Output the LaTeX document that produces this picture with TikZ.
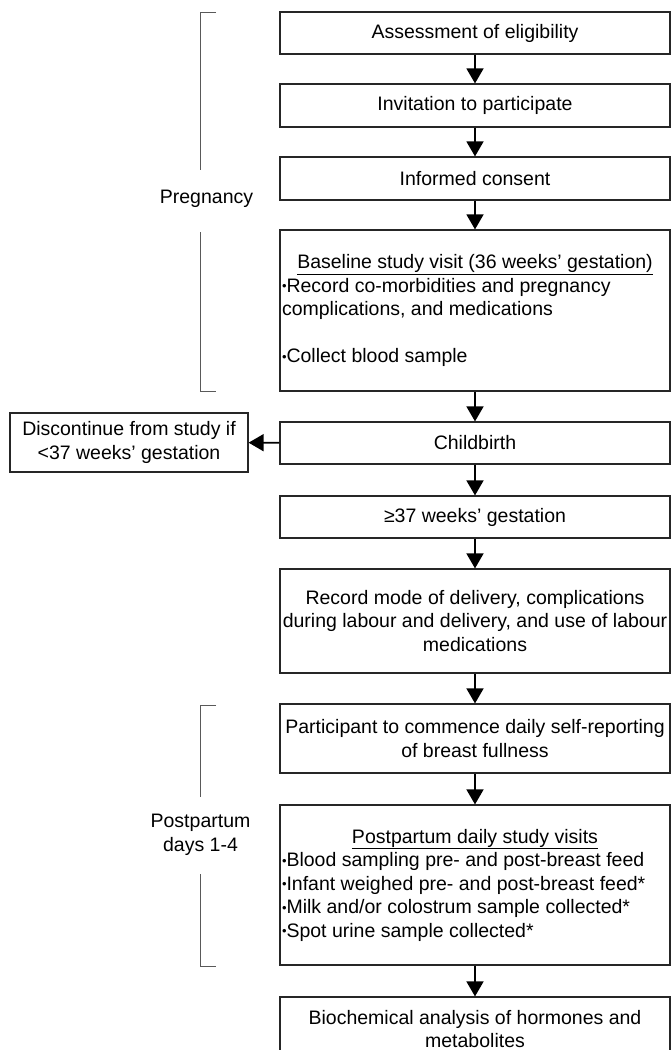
\documentclass[tikz,border=0pt]{standalone}
\usepackage{fontspec}
\setmainfont{Liberation Sans}
\usetikzlibrary{arrows.meta}
\newcommand{\bul}{{\fontsize{13}{13}\selectfont\raisebox{1.5pt}{•}}}

\begin{document}
\begin{tikzpicture}[x=1pt,y=-1pt,
  box/.style={draw=black!85,line width=1.2pt,minimum width=390pt,inner sep=2pt,align=center,
    font=\fontsize{19.5}{23.5}\selectfont},
  lbox/.style={box,align=none,text width=386pt},
  arr/.style={-{Triangle[length=15pt,width=17pt]},line width=1.6pt},
  brk/.style={draw=black!65,line width=1pt},
  lab/.style={font=\fontsize{19.5}{23.5}\selectfont,align=center}]
\useasboundingbox (0,0) rectangle (671,1050);
\node[box,minimum height=42pt] (a) at (475,33) {Assessment of eligibility};
\node[box,minimum height=43pt] (b) at (475,105.5) {Invitation to participate};
\node[box,minimum height=43pt] (c) at (475,178.5) {Informed consent};
\node[lbox,minimum height=161pt] (d) at (475,310.5) {\centering\underline{Baseline study visit (36 weeks’ gestation)}\par
  \raggedright\bul Record co-morbidities and pregnancy\\complications, and medications\par
  \vspace{23.5pt}\bul Collect blood sample\par};
\node[box,minimum height=42pt] (e) at (475,443) {Childbirth};
\node[box,minimum width=238pt,minimum height=59pt] (s) at (129,442.5) {Discontinue from study if\\<37 weeks’ gestation};
\node[box,minimum height=42pt] (f) at (475,517) {≥37 weeks’ gestation};
\node[box,minimum height=104pt] (g) at (475,621) {Record mode of delivery, complications\\during labour and delivery, and use of labour\\medications};
\node[box,minimum height=69pt] (h) at (475,738.5) {Participant to commence daily self-reporting\\of breast fullness};
\node[lbox,minimum height=160pt] (i) at (475,885) {\centering\underline{Postpartum daily study visits}\par
  \raggedright\bul Blood sampling pre- and post-breast feed\\
  \bul Infant weighed pre- and post-breast feed*\\
  \bul Milk and/or colostrum sample collected*\\
  \bul Spot urine sample collected*\par};
\node[box,minimum height=64pt] (j) at (475,1029) {Biochemical analysis of hormones and\\metabolites};

\foreach \u/\v in {a/b,b/c,c/d,d/e,e/f,f/g,g/h,h/i,i/j}
  \draw[arr] (\u) -- (\v);
\draw[arr] (e) -- (s);

\draw[brk] (216,12) -- (200.5,12) -- (200.5,170);
\draw[brk] (200.5,232) -- (200.5,391) -- (216,391);
\node[lab] (preg) at (206.5,199) {Pregnancy};
\draw[brk] (216,705) -- (200.5,705) -- (200.5,797);
\draw[brk] (200.5,874) -- (200.5,966) -- (216,966);
\node[lab] (post) at (200.5,835) {Postpartum\\days 1-4};
\end{tikzpicture}
\end{document}
